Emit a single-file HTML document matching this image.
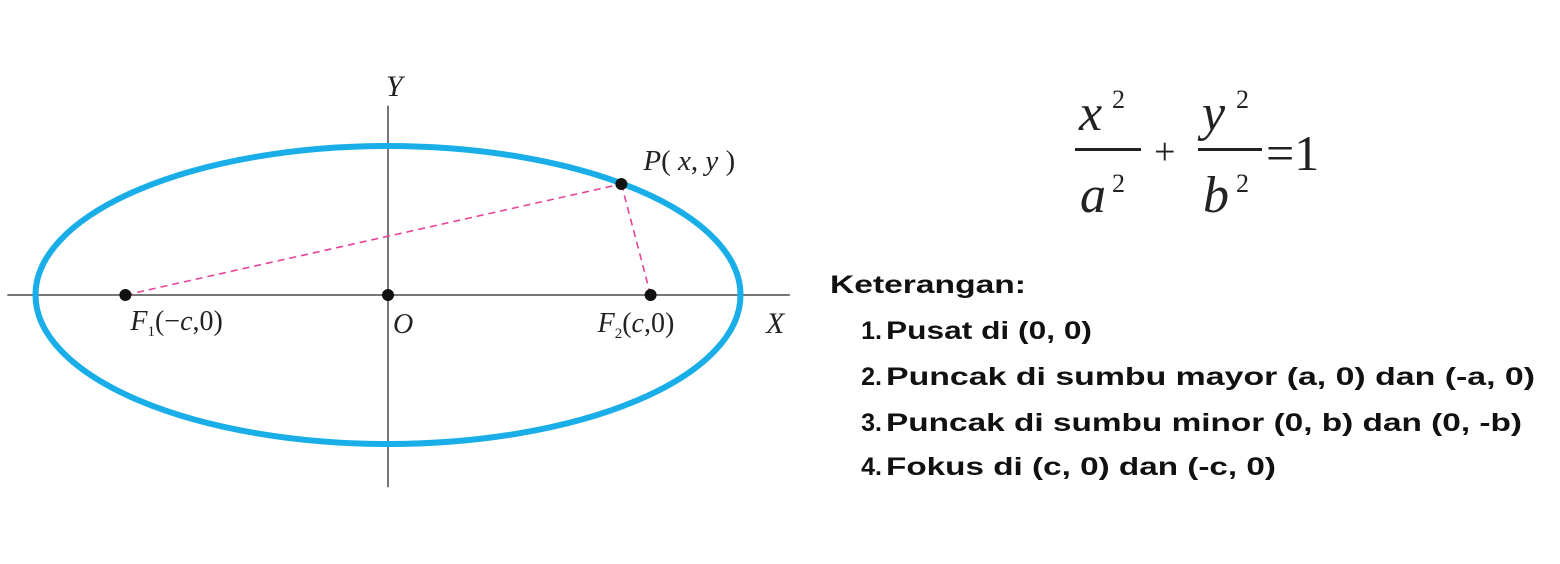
<!DOCTYPE html>
<html><head><meta charset="utf-8"><style>
html,body{margin:0;padding:0;background:#fff;width:1560px;height:564px;overflow:hidden}
</style></head><body>
<svg width="1560" height="564" viewBox="0 0 1560 564" xmlns="http://www.w3.org/2000/svg">
<g id="plot"></g>
<g font-family="Liberation Serif, serif" fill="#222">
  <text x="1079" y="130" font-size="52" font-style="italic">x</text>
  <text x="1112" y="108" font-size="26">2</text>
  <rect x="1075" y="148" width="66" height="3"/>
  <text x="1080" y="212" font-size="52" font-style="italic">a</text>
  <text x="1112" y="192" font-size="26">2</text>
  <text x="1154" y="164" font-size="38">+</text>
  <text x="1202" y="130" font-size="52" font-style="italic">y</text>
  <text x="1236" y="108" font-size="26">2</text>
  <rect x="1198" y="148" width="64" height="3"/>
  <text x="1203" y="212" font-size="52" font-style="italic">b</text>
  <text x="1236" y="192" font-size="26">2</text>
  <text x="1266" y="170" font-size="50">=1</text>
</g>
<g font-family="Liberation Sans, sans-serif" font-size="25" font-weight="bold" fill="#111">
  <text x="830" y="293" textLength="196" lengthAdjust="spacingAndGlyphs">Keterangan:</text>
  <text x="882" y="339" text-anchor="end">1.</text>
  <text x="886" y="339" textLength="206" lengthAdjust="spacingAndGlyphs">Pusat di (0, 0)</text>
  <text x="882" y="385" text-anchor="end">2.</text>
  <text x="886" y="385" textLength="649" lengthAdjust="spacingAndGlyphs">Puncak di sumbu mayor (a, 0) dan (-a, 0)</text>
  <text x="882" y="431" text-anchor="end">3.</text>
  <text x="886" y="431" textLength="636" lengthAdjust="spacingAndGlyphs">Puncak di sumbu minor (0, b) dan (0, -b)</text>
  <text x="882" y="475" text-anchor="end">4.</text>
  <text x="886" y="475" textLength="390" lengthAdjust="spacingAndGlyphs">Fokus di (c, 0) dan (-c, 0)</text>
</g>
</svg>
<script>
const axisBounds = [-1.08, 1.14];   // x-axis extent in units of a
const yAxisBounds = [-1.29, 1.27];  // y-axis extent in units of b
const ellipseAB = [1, 1];
const focusC = [0.745];
const pointP = [0.662, 0.745];

const cx = 388, cy = 295, ax = 352.5, by = 149;
const X = v => cx + v * ax;
const Y = v => cy - v * by;
const NS = 'http://www.w3.org/2000/svg';
const g = document.getElementById('plot');
function mk(tag, attrs, name) {
  const el = document.createElementNS(NS, tag);
  for (const k in attrs) el.setAttribute(k, attrs[k]);
  
  
  g.appendChild(el);
  return el;
}
mk('line', {x1: X(axisBounds[0]), y1: cy, x2: X(axisBounds[1]), y2: cy, stroke: '#777', 'stroke-width': 2}, 'x-axis');
mk('line', {x1: cx, y1: Y(yAxisBounds[1]), x2: cx, y2: Y(yAxisBounds[0]), stroke: '#777', 'stroke-width': 2}, 'y-axis');
mk('ellipse', {cx: cx, cy: cy, rx: ellipseAB[0] * ax, ry: ellipseAB[1] * by, fill: 'none', stroke: '#1aaee8', 'stroke-width': 6}, 'ellipse-curve');
const c = focusC[0];
mk('line', {x1: X(-c), y1: cy, x2: X(pointP[0]), y2: Y(pointP[1]), stroke: '#e8429a', 'stroke-width': 1.6, 'stroke-dasharray': '7 5'}, 'distance-f1-p');
mk('line', {x1: X(c), y1: cy, x2: X(pointP[0]), y2: Y(pointP[1]), stroke: '#e8429a', 'stroke-width': 1.6, 'stroke-dasharray': '7 5'}, 'distance-f2-p');
mk('circle', {cx: X(-c), cy: cy, r: 6, fill: '#111'}, 'focus-f1');
mk('circle', {cx: X(0), cy: cy, r: 6, fill: '#111'}, 'origin-point');
mk('circle', {cx: X(c), cy: cy, r: 6, fill: '#111'}, 'focus-f2');
mk('circle', {cx: X(pointP[0]), cy: Y(pointP[1]), r: 6, fill: '#111'}, 'point-p');
function txt(x, y, s, name, size, italic) {
  const t = mk('text', {x: x, y: y, 'font-family': 'Liberation Serif, serif', 'font-size': size || 26, fill: '#222'}, name);
  if (italic) t.setAttribute('font-style', 'italic');
  t.innerHTML = s;
  return t;
}
txt(386, 96, 'Y', 'y-axis-label', 30, true);
txt(766, 333, 'X', 'x-axis-label', 30, true);
txt(393, 333, 'O', 'origin-label', 28, true);
txt(X(-c) + 5, 330, '<tspan font-style="italic">F</tspan><tspan font-size="15" dy="6">1</tspan><tspan dy="-6">(−</tspan><tspan font-style="italic">c</tspan>,0)', 'focus-f1-label', 28);
txt(X(c) - 53, 332, '<tspan font-style="italic">F</tspan><tspan font-size="15" dy="6">2</tspan><tspan dy="-6">(</tspan><tspan font-style="italic">c</tspan>,0)', 'focus-f2-label', 28);
txt(X(pointP[0]) + 22, Y(pointP[1]) - 14, '<tspan font-style="italic">P</tspan>( <tspan font-style="italic">x</tspan>, <tspan font-style="italic">y</tspan> )', 'point-p-label', 29);
</script>
</body></html>
